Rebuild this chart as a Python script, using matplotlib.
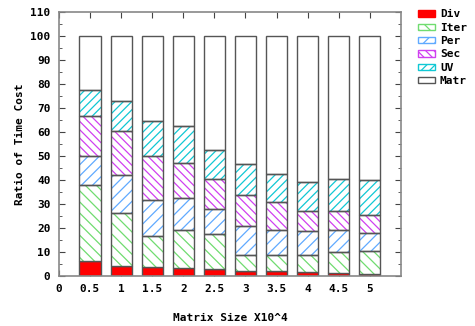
import matplotlib
matplotlib.use("Agg")
import matplotlib.pyplot as plt
import numpy as np
from matplotlib.patches import Patch

sizes = [0.5, 1, 1.5, 2, 2.5, 3, 3.5, 4, 4.5, 5]
xtick_labels = ["0", "0.5", "1", "1.5", "2", "2.5", "3", "3.5", "4", "4.5", "5"]
div = [6.2, 4.2, 3.6, 3.2, 2.8, 2.2, 2.2, 1.7, 1.1, 1.0]
iter_ = [31.9, 22.3, 13.2, 16.2, 14.7, 6.8, 6.7, 7.2, 8.9, 9.5]
per = [12.0, 15.8, 14.8, 13.3, 10.4, 11.8, 10.2, 9.8, 9.4, 7.5]
sec = [16.5, 18.2, 18.3, 14.6, 12.6, 13.2, 11.7, 8.6, 7.9, 7.5]
uv = [10.9, 12.3, 14.6, 15.1, 12.1, 12.6, 11.8, 12.1, 13.1, 14.6]
matr = [100 - sum(v) for v in zip(div, iter_, per, sec, uv)]

series = [
    ("Div", div, "#ff0000", None),
    ("Iter", iter_, "#70dc70", "\\\\\\"),
    ("Per", per, "#60aaff", "///"),
    ("Sec", sec, "#d040f0", "\\\\\\\\"),
    ("UV", uv, "#10c8d4", "////"),
    ("Matr", matr, "#ffffff", None),
]

plt.rcParams["font.family"] = "DejaVu Sans Mono"
plt.rcParams["font.weight"] = "bold"
plt.rcParams["hatch.linewidth"] = 0.9

fig = plt.figure(figsize=(4.75, 3.26), dpi=100)
ax = fig.add_axes([0.124, 0.153, 0.72, 0.81])

edge = "#555555"
width = 0.34
bottom = np.zeros(len(sizes))
for name, vals, col, hatch in series:
    vals = np.array(vals)
    if hatch is None:
        ax.bar(sizes, vals, width, bottom=bottom, color=col, edgecolor=edge, linewidth=1.0, zorder=2)
    else:
        ax.bar(sizes, vals, width, bottom=bottom, color="white", edgecolor=col, hatch=hatch, linewidth=0, zorder=2)
        ax.bar(sizes, vals, width, bottom=bottom, color="none", edgecolor=edge, linewidth=1.0, zorder=3)
    bottom += vals

ax.set_xlim(0, 5.5)
ax.set_ylim(0, 110)
ax.set_xticks([0] + sizes)
ax.set_xticklabels(xtick_labels)
ax.set_yticks(np.arange(0, 111, 10))
ax.set_yticks(np.arange(0, 111, 5), minor=True)
ax.tick_params(axis="both", which="both", direction="in", top=True, right=True,
               labelsize=8, color="#444444", pad=6)
ax.tick_params(axis="both", which="major", length=4)
ax.tick_params(axis="both", which="minor", length=2)
for s in ax.spines.values():
    s.set_color("#888888")
    s.set_linewidth(1.2)

ax.set_xlabel("Matrix Size X10^4", fontsize=8, fontweight="bold", labelpad=13)
ax.set_ylabel("Ratio of Time Cost", fontsize=8, fontweight="bold", labelpad=4)

handles = []
for name, vals, col, hatch in series:
    if hatch is None:
        handles.append(Patch(facecolor=col, edgecolor=edge if name == "Matr" else col, label=name))
    else:
        handles.append(Patch(facecolor="white", edgecolor=col, hatch=hatch, label=name))
fig.legend(handles=handles, loc="upper left", bbox_to_anchor=(0.87, 0.985), frameon=False,
           fontsize=8, handlelength=1.6, handleheight=0.5, handletextpad=0.4, labelspacing=0.3,
           borderaxespad=0)

fig.savefig("out.png", dpi=100)
